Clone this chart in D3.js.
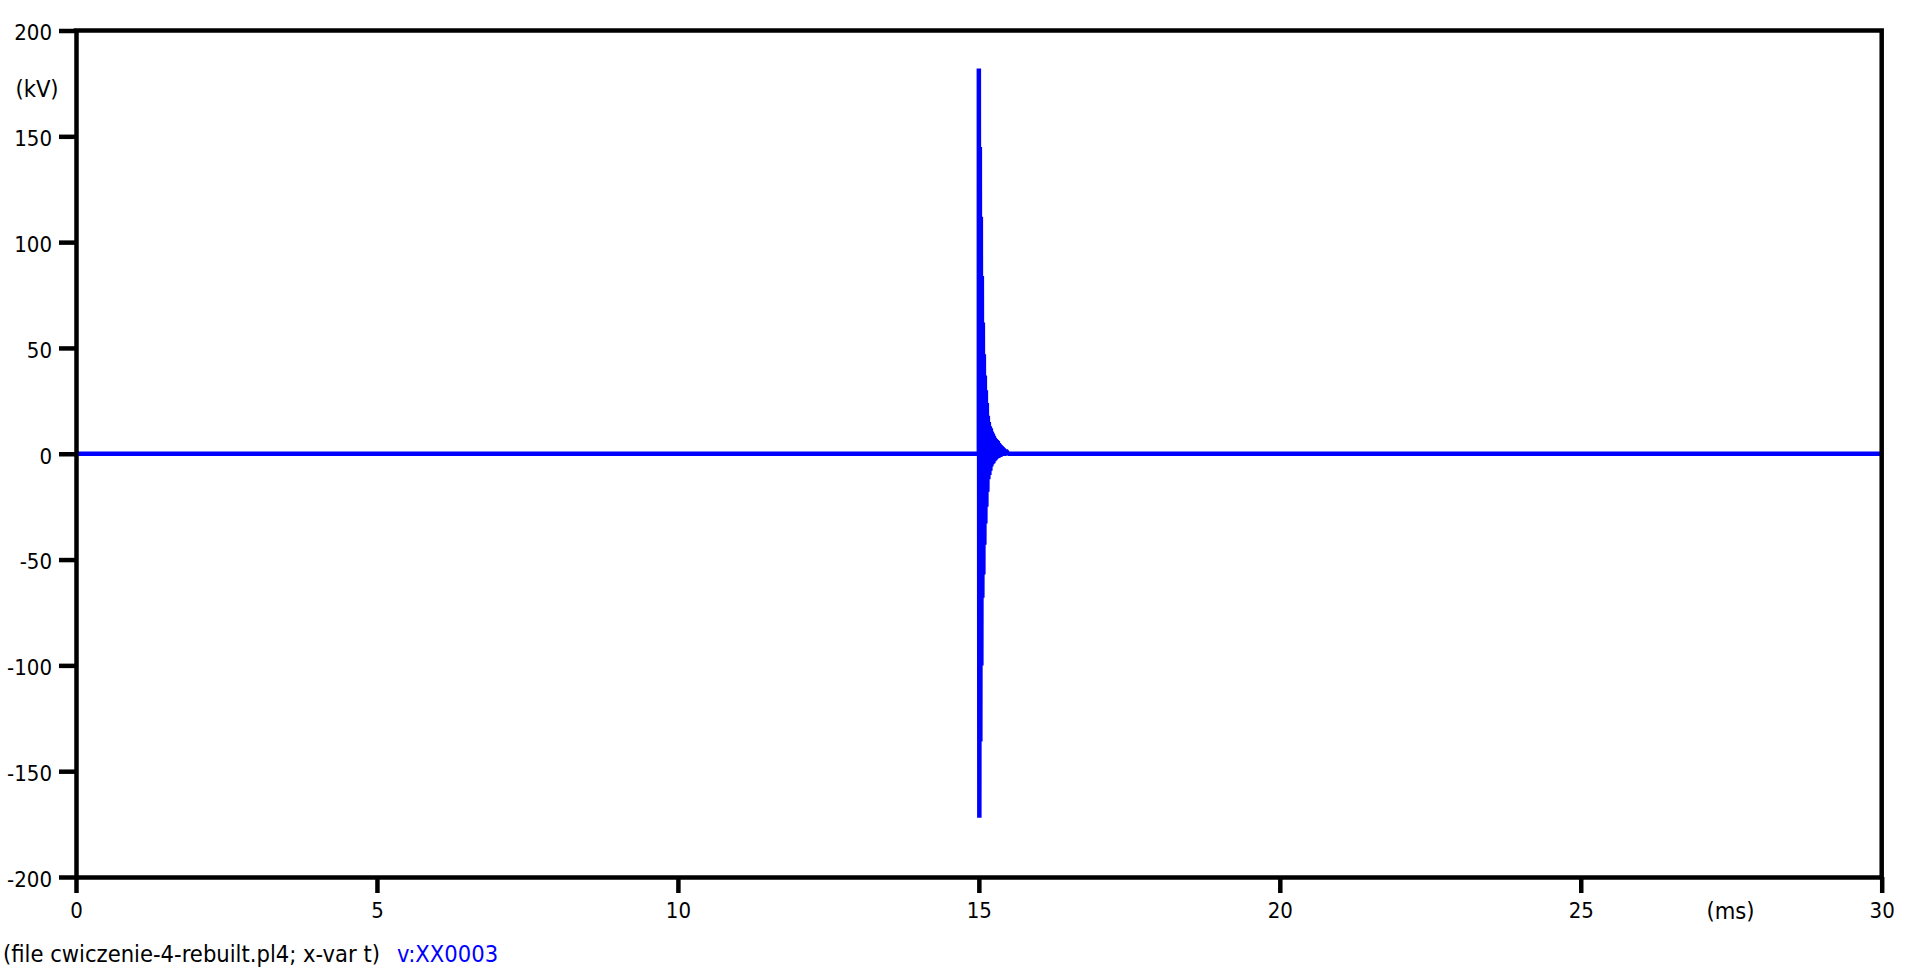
<!DOCTYPE html>
<html>
<head>
<meta charset="utf-8">
<script src="https://cdn.jsdelivr.net/npm/d3@7"></script>
<style>
  html, body { margin: 0; padding: 0; background: #fff; }
  svg { display: block; }
  text { font-family: "DejaVu Sans Condensed", "DejaVu Sans", sans-serif; }
</style>
</head>
<body>
<svg id="chart" width="1916" height="975"></svg>
<script>
// ---- data (time in ms, voltage in kV) ----
const timeMs = [
  0, 15.0000,
  15.0000, 15.0083, 15.0166, 15.0249, 15.0332, 15.0415, 15.0498, 15.0581,
  15.0664, 15.0747, 15.0830, 15.0913, 15.0996, 15.1079, 15.1162, 15.1245,
  15.1328, 15.1411, 15.1494, 15.1577, 15.1660, 15.1743, 15.1826, 15.1909,
  15.1992, 15.2075, 15.2158, 15.2241, 15.2324, 15.2407, 15.2490, 15.2573,
  15.2656, 15.2739, 15.2822, 15.2905, 15.2988, 15.3071, 15.3154, 15.3237,
  15.3320, 15.3403, 15.3486, 15.3569, 15.3652, 15.3735, 15.3818, 15.3901,
  15.3984, 15.4067, 15.4150, 15.4233, 15.4316, 15.4399, 15.4482, 15.4565,
  15.4648, 15.4731,
  15.4800, 30
];
const voltageKV = [
  0, 0,
  182, -172, 145, -136, 112, -100, 84, -68,
  62, -57, 47, -43, 37, -33, 30, -25,
  24, -18, 18, -12, 15, -10, 13, -8,
  12, -6, 10.5, -5, 9.5, -4.5, 8.5, -3.5,
  7.5, -3, 7, -2.5, 6.5, -2, 6, -2,
  5, -1.5, 4.5, -1.5, 4, -1, 3.5, -1,
  3, -1, 2.5, -1, 2, -0.5, 2, -0.5,
  1.5, -0.5,
  0, 0
];
const xTicks = [0, 5, 10, 15, 20, 25, 30];
const yTicks = [-200, -150, -100, -50, 0, 50, 100, 150, 200];
const yUnit = "(kV)";
const xUnit = "(ms)";
const footerFile = "(file cwiczenie-4-rebuilt.pl4; x-var t)";
const footerSeries = "v:XX0003";

// ---- layout ----
const L = 76, R = 1881.7, T = 30.5, B = 877;
const AXW = 4.5;
const svg = d3.select("#chart");

const x = d3.scaleLinear().domain([0, 30]).range([L, R]);
const y = d3.scaleLinear().domain([-200, 200]).range([B, T]);

const data = timeMs.map((t, i) => ({ t, v: voltageKV[i] }));

// series line
svg.append("path")
  .datum(data)
  .attr("fill", "none")
  .attr("stroke", "#0000ff")
  .attr("stroke-width", 4.5)
  .attr("d", d3.line().x(d => x(d.t)).y(d => y(d.v)));

// axes
const fmt = d => String(d); // plain hyphen-minus like the reference
const yAxis = d3.axisLeft(y).tickValues(yTicks).tickFormat(fmt)
  .tickSize(17).tickSizeOuter(0).tickPadding(7);
const gy = svg.append("g").attr("transform", `translate(${L},0)`).call(yAxis);
const xAxis = d3.axisBottom(x).tickValues(xTicks).tickFormat(fmt)
  .tickSize(16).tickSizeOuter(0).tickPadding(9.5);
const gx = svg.append("g").attr("transform", `translate(0,${B})`).call(xAxis);

[gx, gy].forEach(g => {
  g.selectAll("path.domain").attr("stroke", "#000").attr("stroke-width", AXW);
  g.selectAll(".tick line").attr("stroke", "#000").attr("stroke-width", AXW);
  g.selectAll(".tick text").attr("fill", "#000")
    .style("font-size", "22px")
    .style("font-family", '"DejaVu Sans Condensed", "DejaVu Sans", sans-serif');
});
gy.selectAll(".tick text").attr("dy", "0.42em");

// frame (top and right)
svg.append("path")
  .attr("fill", "none")
  .attr("stroke", "#000")
  .attr("stroke-width", AXW)
  .attr("stroke-linecap", "square")
  .attr("d", `M${L},${T}H${R}V${B}`);

// unit labels
svg.append("text").attr("x", 37).attr("y", 96.5).attr("text-anchor", "middle")
  .style("font-size", "23.5px").attr("fill", "#000").text(yUnit);
svg.append("text").attr("x", 1730.5).attr("y", 919).attr("text-anchor", "middle")
  .style("font-size", "23.5px").attr("fill", "#000").text(xUnit);

// footer
svg.append("text").attr("x", 3).attr("y", 962)
  .style("font-size", "23.5px").attr("fill", "#000").text(footerFile);
svg.append("text").attr("x", 397).attr("y", 962)
  .style("font-size", "23.5px").attr("fill", "#0000ff").text(footerSeries);
</script>
</body>
</html>
